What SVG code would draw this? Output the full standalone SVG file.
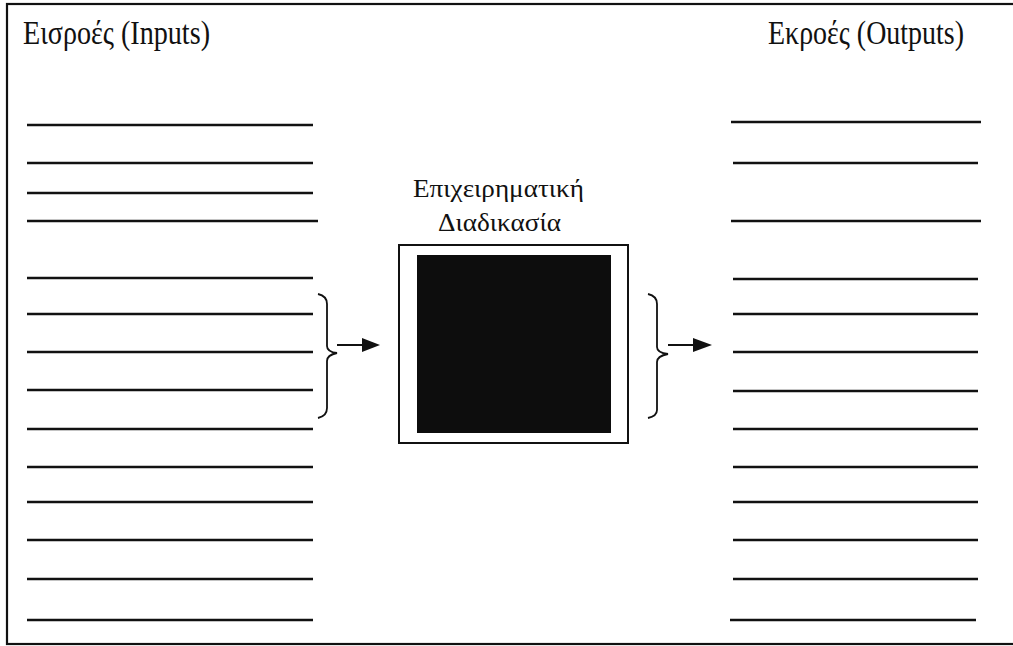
<svg xmlns="http://www.w3.org/2000/svg" width="1013" height="646" viewBox="0 0 1013 646">
  <style>
    .frame { fill: #ffffff; stroke: #111111; stroke-width: 2.2; }
    .rule { stroke: #111111; stroke-width: 2.4; }
    .title { font-family: "Liberation Serif", "DejaVu Serif", serif; font-size: 33px; fill: #111111; }
    .label { font-family: "Liberation Serif", "DejaVu Serif", serif; font-size: 25px; fill: #111111; }
    .brace { fill: none; stroke: #111111; stroke-width: 1.8; }
    .shaft { stroke: #111111; stroke-width: 2; }
    .head { fill: #111111; }
  </style>

  <!-- outer frame (right edge runs off the sheet) -->
  <rect class="frame" x="7" y="4" width="1010" height="640"/>

  <!-- input list -->
  <g id="inputs">
    <text class="title" x="23" y="44" textLength="187" lengthAdjust="spacingAndGlyphs">Εισροές (Inputs)</text>
    <g class="rule">
      <line x1="27" y1="125" x2="313" y2="125"/>
      <line x1="27" y1="163" x2="313" y2="163"/>
      <line x1="27" y1="193" x2="313" y2="193"/>
      <line x1="27" y1="221" x2="318" y2="221"/>
      <line x1="27" y1="278" x2="313" y2="278"/>
      <line x1="27" y1="314" x2="313" y2="314"/>
      <line x1="27" y1="352" x2="313" y2="352"/>
      <line x1="27" y1="390" x2="313" y2="390"/>
      <line x1="27" y1="429" x2="313" y2="429"/>
      <line x1="27" y1="467" x2="313" y2="467"/>
      <line x1="27" y1="502" x2="313" y2="502"/>
      <line x1="27" y1="540" x2="313" y2="540"/>
      <line x1="27" y1="579" x2="313" y2="579"/>
      <line x1="27" y1="620" x2="313" y2="620"/>
    </g>
  </g>

  <!-- business process box -->
  <g id="process">
    <text class="label" x="413" y="197" textLength="171" lengthAdjust="spacingAndGlyphs">Επιχειρηματική</text>
    <text class="label" x="438" y="231" textLength="123" lengthAdjust="spacingAndGlyphs">Διαδικασία</text>
    <rect x="399" y="245" width="229" height="198" fill="#ffffff" stroke="#111111" stroke-width="2"/>
    <rect x="417" y="255" width="194" height="178" fill="#0d0d0d"/>
  </g>

  <!-- output list -->
  <g id="outputs">
    <text class="title" x="768" y="44" textLength="196" lengthAdjust="spacingAndGlyphs">Εκροές (Outputs)</text>
    <g class="rule">
      <line x1="731" y1="122" x2="981" y2="122"/>
      <line x1="733" y1="163" x2="978" y2="163"/>
      <line x1="731" y1="221" x2="981" y2="221"/>
      <line x1="733" y1="279" x2="978" y2="279"/>
      <line x1="733" y1="314" x2="978" y2="314"/>
      <line x1="733" y1="352" x2="978" y2="352"/>
      <line x1="733" y1="391" x2="978" y2="391"/>
      <line x1="733" y1="429" x2="978" y2="429"/>
      <line x1="733" y1="467" x2="978" y2="467"/>
      <line x1="733" y1="502" x2="978" y2="502"/>
      <line x1="733" y1="540" x2="978" y2="540"/>
      <line x1="733" y1="579" x2="978" y2="579"/>
      <line x1="730" y1="620" x2="976" y2="620"/>
    </g>
  </g>

  <!-- braces and flow arrows -->
  <g id="connectors">
    <path class="brace" d="M318,294 Q327,296 327,304 L327,346 Q327,352 337,353 Q327,355 327,361 L327,408 Q327,416 318,418"/>
    <line class="shaft" x1="337" y1="345" x2="364" y2="345"/>
    <polygon class="head" points="362,338 380,345 362,352"/>

    <path class="brace" d="M648,294 Q657,296 657,304 L657,347 Q657,353 668,354 Q657,356 657,362 L657,410 Q657,416 648,418"/>
    <line class="shaft" x1="668" y1="345" x2="695" y2="345"/>
    <polygon class="head" points="693,338 712,345 693,352"/>
  </g>
</svg>
